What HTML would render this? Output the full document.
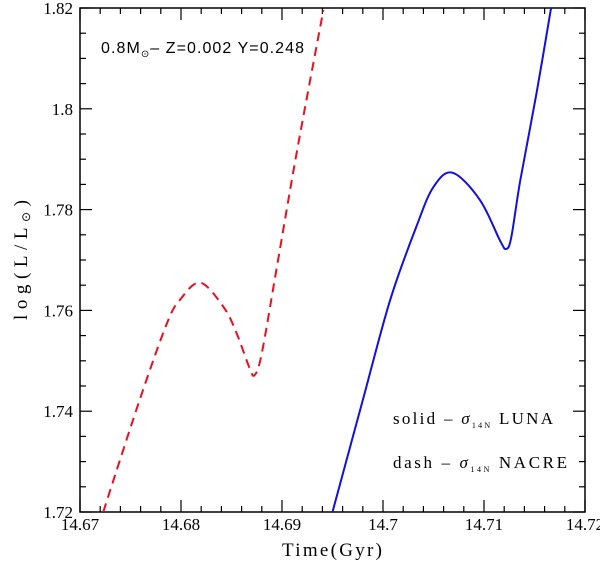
<!DOCTYPE html>
<html><head><meta charset="utf-8"><style>
body{margin:0;background:#fff;}
svg text{font-family:"Liberation Sans",sans-serif;fill:#000;}
</style></head><body>
<svg id="chart" width="600" height="564" viewBox="0 0 600 564">
<g id="ticks"></g>
<rect x="80" y="8" width="505" height="504" fill="none" stroke="#000" stroke-width="1.5"/>
<g id="series"></g>
<text x="101" y="53" font-size="16" textLength="203" lengthAdjust="spacing">0.8M<tspan font-size="10" dy="4">⊙</tspan><tspan dy="-4">– Z=0.002 Y=0.248</tspan></text>
<text x="393" y="424" font-size="17" textLength="160" lengthAdjust="spacing" style="font-family:'Liberation Serif',serif">solid – <tspan font-style="italic">σ</tspan><tspan font-size="8" dy="4">14N</tspan><tspan dy="-4"> LUNA</tspan></text>
<text x="393" y="468" font-size="17" textLength="174" lengthAdjust="spacing" style="font-family:'Liberation Serif',serif">dash – <tspan font-style="italic">σ</tspan><tspan font-size="8" dy="4">14N</tspan><tspan dy="-4"> NACRE</tspan></text>
<text x="332" y="556" font-size="19" text-anchor="middle" textLength="100" lengthAdjust="spacing" style="font-family:'Liberation Serif',serif">Time(Gyr)</text>
<text transform="translate(27,260) rotate(-90)" font-size="19" text-anchor="middle" textLength="120" lengthAdjust="spacing" style="font-family:'Liberation Serif',serif">log(L/L<tspan font-size="12" dy="3">⊙</tspan><tspan dy="-3">)</tspan></text>
</svg>
<script>
const xTicks=[14.67,14.68,14.69,14.7,14.71,14.72];
const xTickLabels=["14.67","14.68","14.69","14.7","14.71","14.72"];
const yTicks=[1.72,1.74,1.76,1.78,1.8,1.82];
const yTickLabels=["1.72","1.74","1.76","1.78","1.8","1.82"];
const nacreX=[14.6723,14.6759,14.6786,14.6799,14.6819,14.6842,14.6855,14.6868,14.6873,14.6880,14.6895,14.6915,14.6941];
const nacreY=[1.72,1.7422,1.7574,1.7621,1.7655,1.7607,1.7555,1.7485,1.7472,1.7515,1.7687,1.7918,1.8196];
const lunaX=[14.6950,14.6980,14.7007,14.7033,14.7050,14.7069,14.7096,14.7116,14.7122,14.7127,14.7136,14.7152,14.7167];
const lunaY=[1.72,1.7422,1.762,1.7766,1.7845,1.7873,1.7819,1.7738,1.7722,1.7745,1.7859,1.8031,1.8207];
const X0=80,X1=585,Y0=512,Y1=8;
const sx=v=>X0+(v-14.67)/0.05*(X1-X0);
const sy=v=>Y0-(v-1.72)/0.1*(Y0-Y1);
const NS="http://www.w3.org/2000/svg";
const tg=document.getElementById('ticks');
function ln(x1,y1,x2,y2){const l=document.createElementNS(NS,'line');l.setAttribute('x1',x1);l.setAttribute('y1',y1);l.setAttribute('x2',x2);l.setAttribute('y2',y2);l.setAttribute('stroke','#000');l.setAttribute('stroke-width','1.2');


tg.appendChild(l);}
for(let i=0;i<=25;i++){const x=sx(14.67+i*0.002);const L=i%5===0?12:6;ln(x,Y0,x,Y0-L);ln(x,Y1,x,Y1+L);}
for(let i=0;i<=20;i++){const y=sy(1.72+i*0.005);const L=i%4===0?12:6;ln(X0,y,X0+L,y);ln(X1,y,X1-L,y);}
xTicks.forEach((v,i)=>{const t=document.createElementNS(NS,'text');t.setAttribute('x',sx(v));t.setAttribute('y',530);t.setAttribute('text-anchor','middle');t.setAttribute('font-size','17');t.setAttribute('style',"font-family:'Liberation Serif',serif");t.textContent=xTickLabels[i];


tg.appendChild(t);});
yTicks.forEach((v,i)=>{const t=document.createElementNS(NS,'text');t.setAttribute('x',73);t.setAttribute('y',sy(v)+6);t.setAttribute('text-anchor','end');t.setAttribute('font-size','17');t.setAttribute('style',"font-family:'Liberation Serif',serif");t.textContent=yTickLabels[i];


tg.appendChild(t);});
function path(xs,ys){const p=xs.map((x,i)=>[sx(x),sy(ys[i])]);let d='M'+p[0][0]+','+p[0][1];
for(let i=0;i<p.length-1;i++){const a=p[Math.max(i-1,0)],b=p[i],c=p[i+1],e=p[Math.min(i+2,p.length-1)];
d+=' C'+(b[0]+(c[0]-a[0])/6)+','+(b[1]+(c[1]-a[1])/6)+' '+(c[0]-(e[0]-b[0])/6)+','+(c[1]-(e[1]-b[1])/6)+' '+c[0]+','+c[1];}return d;}
const sg=document.getElementById('series');
const cp=document.createElementNS(NS,'clipPath');cp.id='clip';const cr=document.createElementNS(NS,'rect');cr.setAttribute('x',X0);cr.setAttribute('y',Y1);cr.setAttribute('width',X1-X0);cr.setAttribute('height',Y0-Y1);cp.appendChild(cr);sg.appendChild(cp);
const r=document.createElementNS(NS,'path');r.setAttribute('d',path(nacreX,nacreY));r.setAttribute('fill','none');r.setAttribute('stroke','#e8101e');r.setAttribute('stroke-width','2');r.setAttribute('stroke-dasharray','9,6');r.setAttribute('clip-path','url(#clip)');


sg.appendChild(r);
const b=document.createElementNS(NS,'path');b.setAttribute('d',path(lunaX,lunaY));b.setAttribute('fill','none');b.setAttribute('stroke','#1010e0');b.setAttribute('stroke-width','2');b.setAttribute('clip-path','url(#clip)');


sg.appendChild(b);
</script>
</body></html>
